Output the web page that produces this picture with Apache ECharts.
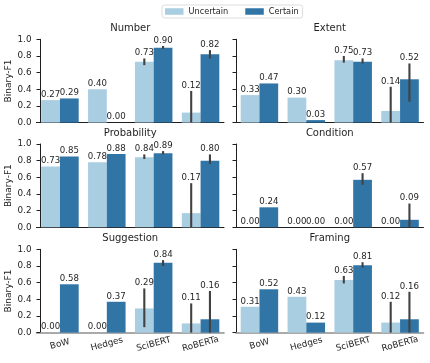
<!DOCTYPE html>
<html>
<head>
<meta charset="utf-8">
<script src="https://cdn.jsdelivr.net/npm/echarts@6/dist/echarts.min.js"></script>
<style>
  html, body { margin: 0; padding: 0; background: #fff; }
  #chart { width: 430px; height: 363px; }
</style>
</head>
<body>
<div id="chart"></div>
<script>
// categories / panels
const models = ['BoW', 'Hedges', 'SciBERT', 'RoBERTa'];
const panelTitles = ['Number', 'Extent', 'Probability', 'Condition', 'Suggestion', 'Framing'];
const yTicks = [0.0, 0.2, 0.4, 0.6, 0.8, 1.0];

// Binary-F1 per panel, one row per panel (same order as panelTitles)
const uncertainF1 = [
  [0.27, 0.40, 0.73, 0.12],
  [0.33, 0.30, 0.75, 0.14],
  [0.73, 0.78, 0.84, 0.17],
  [0.00, 0.00, 0.00, 0.00],
  [0.00, 0.00, 0.29, 0.11],
  [0.31, 0.43, 0.63, 0.12]
];
const certainF1 = [
  [0.29, 0.00, 0.90, 0.82],
  [0.47, 0.03, 0.73, 0.52],
  [0.85, 0.88, 0.89, 0.80],
  [0.24, 0.00, 0.57, 0.09],
  [0.58, 0.37, 0.84, 0.16],
  [0.52, 0.12, 0.81, 0.16]
];

// error bars (low, high), null = no error bar
const uncertainCI = [
  [null, null, [0.69, 0.77], [0.00, 0.38]],
  [null, null, [0.72, 0.80], [0.00, 0.43]],
  [null, null, [0.82, 0.875], [0.00, 0.53]],
  [null, null, null, null],
  [null, null, [0.065, 0.53], [0.00, 0.35]],
  [null, null, [0.59, 0.68], [0.00, 0.37]]
];
const certainCI = [
  [null, null, [0.885, 0.92], [0.77, 0.87]],
  [null, null, [0.71, 0.77], [0.25, 0.71]],
  [null, null, [0.875, 0.915], [0.76, 0.875]],
  [null, null, [0.51, 0.65], [0.00, 0.285]],
  [null, null, [0.80, 0.87], [0.00, 0.50]],
  [null, null, [0.78, 0.845], [0.00, 0.49]]
];

const FONT = 'DejaVu Sans';
const INK = '#1f1f1f';
const LIGHT = '#a9cde1';
const DARK = '#3075a6';
const ERR = '#424242';

// layout of the 3x2 panels
const colLeft = [36.5, 236];
const colWidth = 187.5;
const rowTop = [39.3, 144, 249.3];
const rowHeight = 83.3;

const chart = echarts.init(document.getElementById('chart'));

// error bar + value label drawn on top of each bar
function errRenderer(side, cis) {
  return function (params, api) {
    const i = api.value(0);
    const v = api.value(1);
    const band = api.size([1, 0])[0];
    const base = api.coord([i, v]);
    const x = base[0] + side * band * 0.2;
    const ci = cis[params.dataIndex];
    const children = [];
    let topY = base[1];
    if (ci) {
      const lo = api.coord([i, ci[0]])[1];
      const hi = api.coord([i, ci[1]])[1];
      children.push({
        type: 'line',
        shape: { x1: x, y1: lo, x2: x, y2: hi },
        style: { stroke: ERR, lineWidth: 2.1 }
      });
      topY = Math.min(topY, hi);
    }
    children.push({
      type: 'text',
      style: {
        x: x, y: topY - 1,
        text: v.toFixed(2),
        fill: INK, fontSize: 8.6, fontFamily: FONT,
        align: 'center', verticalAlign: 'bottom'
      }
    });
    return { type: 'group', children: children };
  };
}

const grids = [], xAxes = [], yAxes = [], titles = [], series = [];

panelTitles.forEach(function (name, p) {
  const row = Math.floor(p / 2);
  const col = p % 2;
  const bottomRow = row === 2;

  grids.push({ left: colLeft[col], top: rowTop[row], width: colWidth, height: rowHeight });

  titles.push({
    text: name,
    left: colLeft[col] + colWidth / 2,
    top: rowTop[row] - 15.5,
    textAlign: 'center',
    padding: 0,
    textStyle: { fontSize: 10, fontWeight: 'normal', color: INK, fontFamily: FONT }
  });

  xAxes.push({
    type: 'category',
    gridIndex: p,
    data: models,
    axisLine: { lineStyle: { color: bottomRow ? '#8e8e8e' : INK, width: bottomRow ? 1.6 : 1 } },
    axisTick: { alignWithLabel: true, length: 3.5, lineStyle: { color: INK } },
    axisLabel: {
      show: bottomRow,
      rotate: 15,
      align: 'center',
      verticalAlign: 'middle',
      margin: 11.5,
      fontSize: 8.8,
      fontFamily: FONT,
      color: INK
    }
  });

  yAxes.push({
    type: 'value',
    gridIndex: p,
    min: yTicks[0],
    max: yTicks[yTicks.length - 1],
    interval: yTicks[1] - yTicks[0],
    offset: col === 0 ? -3.5 : 0,
    name: col === 0 ? 'Binary-F1' : '',
    nameLocation: 'middle',
    nameGap: 24,
    nameTextStyle: { fontSize: 9, fontFamily: FONT, color: INK },
    axisLine: { show: true, lineStyle: { color: INK, width: 1 } },
    axisTick: { show: true, length: 3.5, lineStyle: { color: INK } },
    splitLine: { show: false },
    axisLabel: {
      show: col === 0,
      margin: 8.5,
      fontSize: 8.8,
      fontFamily: FONT,
      color: INK,
      formatter: function (v) { return v.toFixed(1); }
    }
  });

  series.push({
    type: 'bar', name: 'Uncertain', xAxisIndex: p, yAxisIndex: p,
    data: uncertainF1[p], barWidth: '40%', barGap: '0%',
    itemStyle: { color: LIGHT }
  });
  series.push({
    type: 'bar', name: 'Certain', xAxisIndex: p, yAxisIndex: p,
    data: certainF1[p], barWidth: '40%', barGap: '0%',
    itemStyle: { color: DARK }
  });
  series.push({
    type: 'custom', name: 'err-u', xAxisIndex: p, yAxisIndex: p, z: 5,
    data: uncertainF1[p].map(function (v, i) { return [i, v]; }),
    renderItem: errRenderer(-1, uncertainCI[p])
  });
  series.push({
    type: 'custom', name: 'err-c', xAxisIndex: p, yAxisIndex: p, z: 5,
    data: certainF1[p].map(function (v, i) { return [i, v]; }),
    renderItem: errRenderer(1, certainCI[p])
  });
});

chart.setOption({
  animation: false,
  backgroundColor: '#fff',
  title: titles,
  legend: {
    data: ['Uncertain', 'Certain'],
    left: 162,
    top: 5,
    padding: [2.5, 4, 2.5, 3],
    itemWidth: 18.5,
    itemHeight: 6.5,
    itemGap: 17,
    icon: 'rect',
    borderColor: '#d4d4d4',
    borderWidth: 0.8,
    borderRadius: 2.5,
    textStyle: { fontSize: 8.2, fontFamily: FONT, color: INK }
  },
  grid: grids,
  xAxis: xAxes,
  yAxis: yAxes,
  series: series
});
</script>
</body>
</html>
